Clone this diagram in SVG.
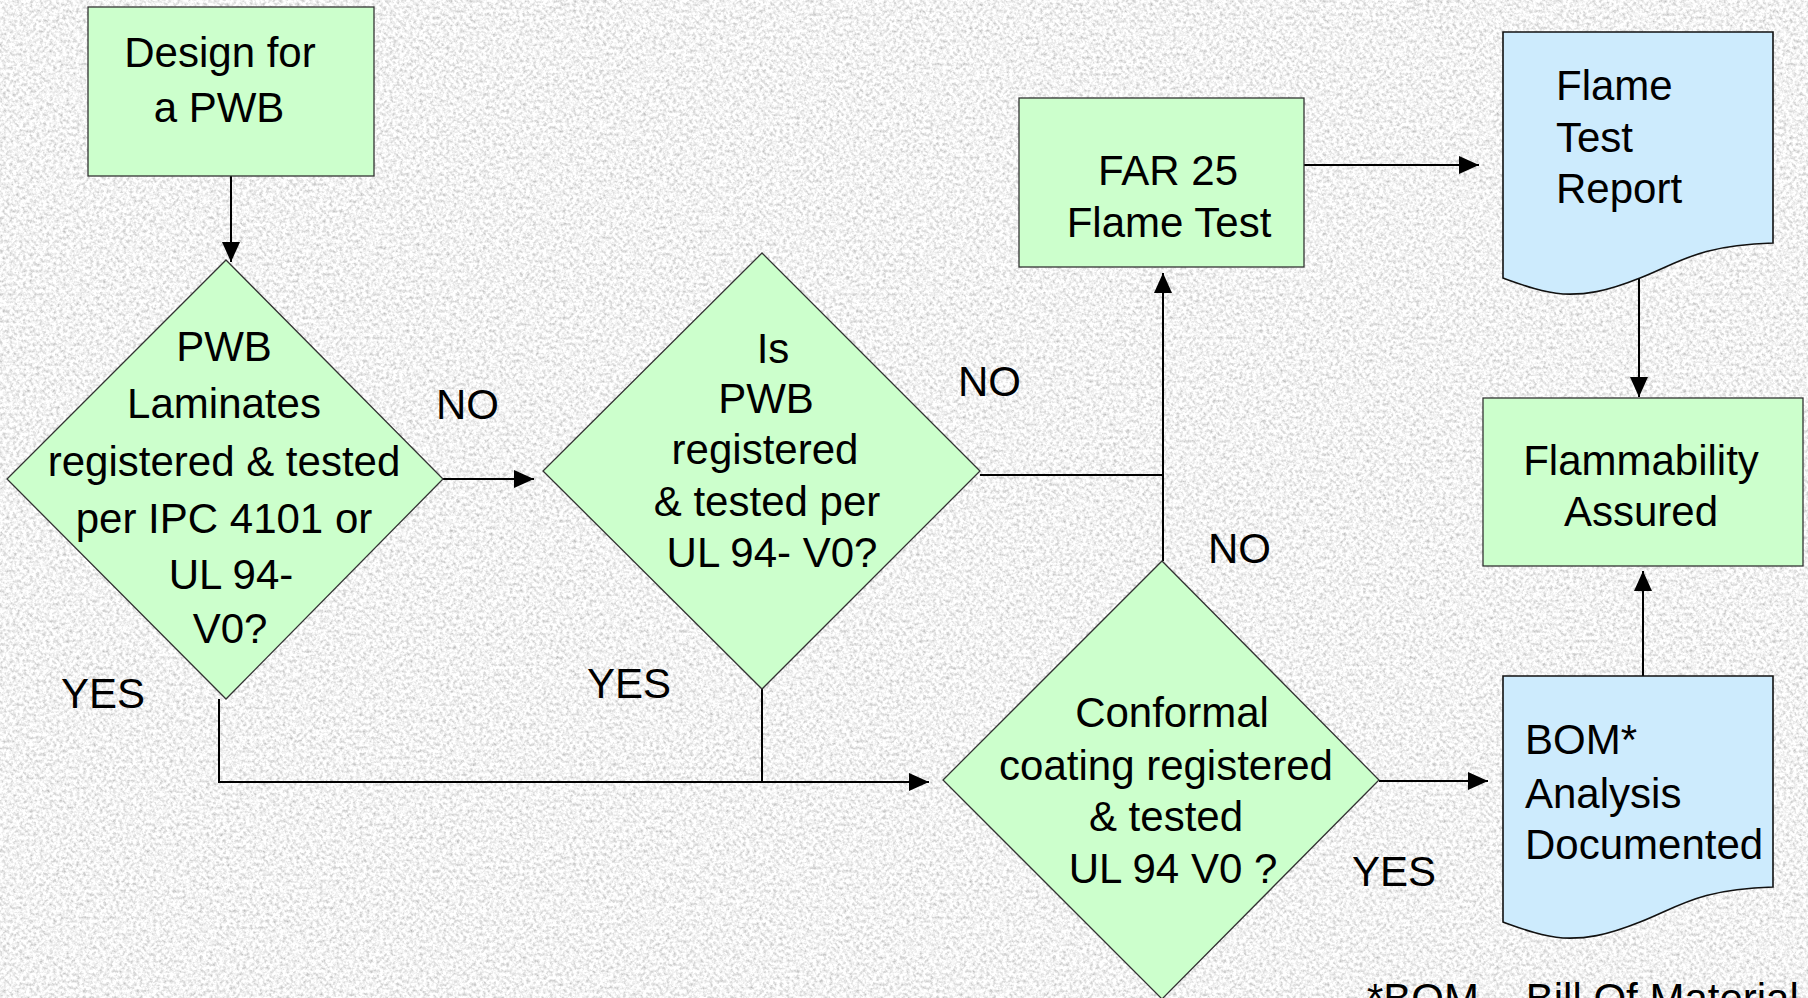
<svg xmlns="http://www.w3.org/2000/svg" width="1808" height="998" viewBox="0 0 1808 998">
<style>
  text { font-family: "Liberation Sans", Arial, sans-serif; font-size: 42px; fill: #000; }
  .mid { text-anchor: middle; }
  .box { fill: #ccffcc; stroke: #333; stroke-width: 1.3; }
  .dia { fill: #ccffcc; stroke: #333; stroke-width: 1.3; }
  .doc { fill: #cdebfd; stroke: #111; stroke-width: 1.6; }
  .conn { fill: none; stroke: #000; stroke-width: 2; }
</style>
<defs>
  <filter id="granite" x="0" y="0" width="100%" height="100%" filterUnits="userSpaceOnUse">
    <feTurbulence type="fractalNoise" baseFrequency="0.3" numOctaves="3" seed="7" result="n"/>
    <feColorMatrix in="n" type="matrix" values="0.95 0 0 0 0.42  0.95 0 0 0 0.42  0.95 0 0 0 0.42  0 0 0 0 1"/>
  </filter>
  <marker id="arr" markerUnits="userSpaceOnUse" markerWidth="22" markerHeight="20" refX="20" refY="9" orient="auto">
    <path d="M0,0 L20,9 L0,18 Z" fill="#000"/>
  </marker>
</defs>

<rect x="0" y="0" width="1808" height="998" fill="#dcdcdc" filter="url(#granite)"/>

<g id="connectors">
  <path class="conn" d="M231,176 V262" marker-end="url(#arr)"/>
  <path class="conn" d="M443,479 H534" marker-end="url(#arr)"/>
  <path class="conn" d="M980,475 H1163"/>
  <path class="conn" d="M1163,561 V273" marker-end="url(#arr)"/>
  <path class="conn" d="M219,699 V782 H929" marker-end="url(#arr)"/>
  <path class="conn" d="M762,689 V782"/>
  <path class="conn" d="M1379,781 H1488" marker-end="url(#arr)"/>
  <path class="conn" d="M1304,165 H1479" marker-end="url(#arr)"/>
  <path class="conn" d="M1639,279 V397" marker-end="url(#arr)"/>
  <path class="conn" d="M1643,676 V571" marker-end="url(#arr)"/>
</g>

<g id="design">
  <rect class="box" x="88" y="7" width="286" height="169"/>
  <text class="mid" x="220" y="67">Design for</text>
  <text class="mid" x="219" y="122">a PWB</text>
</g>

<g id="decision1">
  <polygon class="dia" points="226,260 443,479 226,699 7,479"/>
  <text class="mid" x="224" y="361">PWB</text>
  <text class="mid" x="224" y="418">Laminates</text>
  <text class="mid" x="224" y="476">registered &amp; tested</text>
  <text class="mid" x="224" y="533">per IPC 4101 or</text>
  <text class="mid" x="231" y="589">UL 94-</text>
  <text class="mid" x="230" y="643">V0?</text>
</g>

<g id="decision2">
  <polygon class="dia" points="762,253 980,471 762,689 543,471"/>
  <text class="mid" x="773" y="363">Is</text>
  <text class="mid" x="766" y="413">PWB</text>
  <text class="mid" x="765" y="464">registered</text>
  <text class="mid" x="767" y="516">&amp; tested per</text>
  <text class="mid" x="772" y="567">UL 94- V0?</text>
</g>

<g id="decision3">
  <polygon class="dia" points="1162,561 1379,780 1162,999 943,780"/>
  <text class="mid" x="1172" y="727">Conformal</text>
  <text class="mid" x="1166" y="780">coating registered</text>
  <text class="mid" x="1166" y="831">&amp; tested</text>
  <text class="mid" x="1173" y="883">UL 94 V0 ?</text>
</g>

<g id="far25">
  <rect class="box" x="1019" y="98" width="285" height="169"/>
  <text class="mid" x="1168" y="185">FAR 25</text>
  <text class="mid" x="1169" y="237">Flame Test</text>
</g>

<g id="report">
  <path class="doc" d="M1503,32 H1773 V243 C1700,245 1680,262 1640,278 C1605,292 1585,295 1563,294 C1540,292 1520,284 1503,278 Z"/>
  <text x="1556" y="100">Flame</text>
  <text x="1556" y="152">Test</text>
  <text x="1556" y="203">Report</text>
</g>

<g id="assured">
  <rect class="box" x="1483" y="398" width="320" height="168"/>
  <text class="mid" x="1641" y="475">Flammability</text>
  <text class="mid" x="1641" y="526">Assured</text>
</g>

<g id="bom">
  <path class="doc" d="M1503,676 H1773 V887 C1700,889 1680,906 1640,922 C1605,936 1585,939 1563,938 C1540,936 1520,928 1503,922 Z"/>
  <text x="1525" y="754">BOM*</text>
  <text x="1525" y="808">Analysis</text>
  <text x="1525" y="859">Documented</text>
</g>

<g id="labels">
  <text x="436" y="419">NO</text>
  <text x="958" y="396">NO</text>
  <text x="1208" y="563">NO</text>
  <text x="61" y="708">YES</text>
  <text x="587" y="698">YES</text>
  <text x="1352" y="886">YES</text>
  <text x="1367" y="1013">*BOM – Bill Of Material</text>
</g>
</svg>
